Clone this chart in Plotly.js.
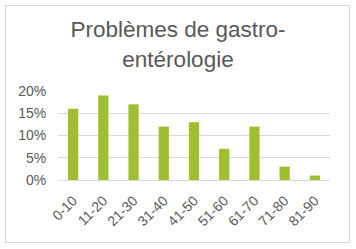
<!DOCTYPE html>
<html><head><meta charset="utf-8">
<script src="https://cdn.plot.ly/plotly-3.0.1.min.js"></script>
<style>
html,body{margin:0;padding:0;background:#fff;}
#wrap{position:relative;width:356px;height:249px;}
#frame{position:absolute;left:5px;top:5px;width:343px;height:236px;border:1px solid #D9D9D9;pointer-events:none;}
#chart{position:absolute;left:0;top:0;width:356px;height:249px;}
</style></head>
<body><div id="wrap"><div id="chart"></div><div id="frame"></div></div>
<script>
const categories = ['0-10','11-20','21-30','31-40','41-50','51-60','61-70','71-80','81-90'];
const values = [0.16,0.19,0.17,0.12,0.13,0.07,0.12,0.03,0.01];
const tickVals = [0,0.05,0.10,0.15,0.20];
const tickText = ['0%','5%','10%','15%','20%'];
const titleText = 'Problèmes de gastro-<br>entérologie';

Plotly.newPlot('chart', [{
  type:'bar', x:categories, y:values,
  marker:{color:'#A0BF30'}, hoverinfo:'none'
}], {
  width:356, height:249,
  margin:{l:58,r:26,t:91,b:69},
  paper_bgcolor:'rgba(0,0,0,0)', plot_bgcolor:'rgba(0,0,0,0)',
  bargap:0.66,
  showlegend:false,
  font:{family:'Liberation Sans, Arial, sans-serif', color:'#595959', size:14},
  title:{text:titleText, x:0.5, xanchor:'center', y:0.85, yref:'container', yanchor:'top',
    font:{family:'Liberation Sans, Arial, sans-serif', size:22.5, color:'#595959'}},
  xaxis:{type:'category', tickangle:-45, showgrid:false, showline:true, linecolor:'#D9D9D9', linewidth:1,
    ticks:'outside', ticklen:6, tickcolor:'rgba(0,0,0,0)', tickfont:{size:14,color:'#595959'}, automargin:false},
  yaxis:{range:[0,0.2], tickvals:tickVals, ticktext:tickText, showgrid:true, gridcolor:'#D9D9D9', gridwidth:1,
    zeroline:false, showline:false, ticks:'outside', ticklen:8, tickcolor:'rgba(0,0,0,0)',
    tickfont:{size:14,color:'#595959'}, automargin:false}
}, {staticPlot:true});
</script></body></html>
